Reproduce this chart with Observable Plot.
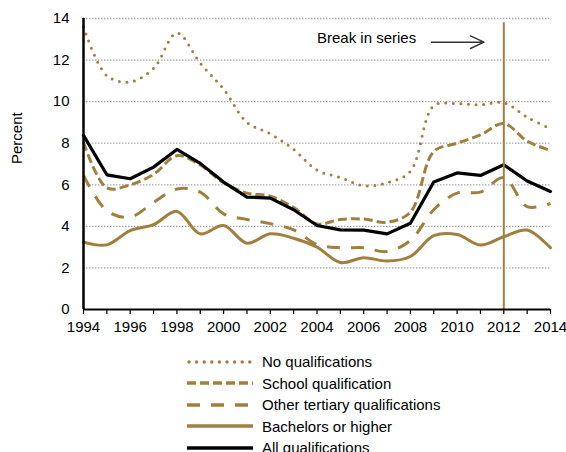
<!DOCTYPE html>
<html>
<head>
<meta charset="utf-8">
<script src="https://cdn.jsdelivr.net/npm/d3@7"></script>
<script src="https://cdn.jsdelivr.net/npm/@observablehq/plot@0.6"></script>
<style>
  body { margin: 0; background: #fff; font-family: "Liberation Sans", Arial, sans-serif; color: #000; }
  #legend { margin-top: 11px; padding-left: 187px; font-size: 15px; }
  .row { display: flex; align-items: center; height: 21.5px; }
  .row svg { margin-right: 9px; }
</style>
</head>
<body>
<div id="chart"></div>
<div id="legend"></div>
<script>
const years = [1994,1995,1996,1997,1998,1999,2000,2001,2002,2003,2004,2005,2006,2007,2008,2009,2010,2011,2012,2013,2014];
const noQualifications = [13.6,11.25,10.95,11.6,13.3,11.85,10.6,9.0,8.45,7.7,6.7,6.35,5.95,6.1,6.65,9.8,9.9,9.85,9.95,9.25,8.7];
const schoolQualification = [8.05,5.85,6.0,6.5,7.4,6.95,6.1,5.6,5.45,4.9,4.12,4.33,4.35,4.2,4.68,7.6,8.0,8.4,8.95,8.1,7.65];
const otherTertiary = [6.45,4.75,4.45,5.15,5.8,5.65,4.6,4.33,4.13,3.83,3.13,2.97,2.97,2.79,3.32,4.8,5.6,5.65,6.35,4.95,5.1];
const bachelors = [3.24,3.11,3.8,4.08,4.72,3.64,4.04,3.19,3.64,3.43,3.0,2.26,2.49,2.33,2.55,3.55,3.61,3.1,3.5,3.82,2.97];
const allQualifications = [8.38,6.48,6.29,6.85,7.7,7.03,6.13,5.41,5.36,4.8,4.04,3.83,3.82,3.64,4.15,6.13,6.57,6.45,6.96,6.18,5.68];
const yTicks = [0,2,4,6,8,10,12,14];
const xLabelYears = [1994,1996,1998,2000,2002,2004,2006,2008,2010,2012,2014];
const breakYear = 2012;
const breakLabel = "Break in series";

const gold = "#a17f3f";
const series = [
  {name: "No qualifications", values: noQualifications, color: gold, dash: "0 7.6", cap: "round", curve: "catmull-rom", width: 3},
  {name: "School qualification", values: schoolQualification, color: gold, dash: "9 4", cap: "butt", curve: "catmull-rom", width: 3},
  {name: "Other tertiary qualifications", values: otherTertiary, color: gold, dash: "13 11", cap: "butt", curve: "catmull-rom", width: 3},
  {name: "Bachelors or higher", values: bachelors, color: gold, dash: null, cap: "round", curve: "catmull-rom", width: 3},
  {name: "All qualifications", values: allQualifications, color: "#000", dash: null, cap: "round", curve: "linear", width: 3.2}
];

const lineMarks = series.map(s => Plot.line(years.map((y, i) => ({year: y, value: s.values[i]})), {
  x: "year", y: "value", stroke: s.color, strokeWidth: s.width,
  strokeDasharray: s.dash || undefined, strokeLinecap: s.cap, strokeLinejoin: "round", curve: s.curve
}));

const chart = Plot.plot({
  width: 566, height: 340,
  marginLeft: 83, marginRight: 16, marginTop: 18, marginBottom: 31,
  style: {fontFamily: "'Liberation Sans', Arial, sans-serif", fontSize: "15px", color: "#000", background: "#fff"},
  x: {domain: [years[0], years[years.length - 1]]},
  y: {domain: [0, 14]},
  marks: [
    Plot.ruleY(yTicks.filter(d => d > 0), {stroke: "#a6a6a6", strokeWidth: 1.3, strokeDasharray: "1.4 1.6"}),
    ...lineMarks,
    Plot.ruleX([breakYear], {y1: 0, y2: 13.8, stroke: gold, strokeWidth: 2}),
    Plot.ruleX([years[0]], {y1: 0, y2: 14, stroke: "#000", strokeWidth: 2.5}),
    Plot.ruleY([0], {stroke: "#000", strokeWidth: 2}),
    Plot.axisY({ticks: yTicks, tickSize: 0, tickPadding: 14, label: null, fontSize: 15}),
    Plot.axisX({ticks: years, tickSize: 5, tickPadding: 7, tickFormat: d => xLabelYears.includes(d) ? String(d) : "", label: null, fontSize: 15, stroke: "#000", strokeWidth: 1.2}),
    Plot.text([breakLabel], {x: 2004.0, y: 13.07, text: d => d, textAnchor: "start", fontSize: 15, fill: "#000"}),
    Plot.arrow([{x1: 2008.9, x2: 2011.15, y: 12.86}], {x1: "x1", x2: "x2", y1: "y", y2: "y", stroke: "#333", strokeWidth: 1.4, headLength: 16, headAngle: 50}),
    Plot.text(["Percent"], {frameAnchor: "left", dx: -66, rotate: -90, text: d => d, fontSize: 15, fill: "#000"})
  ]
});
document.getElementById("chart").appendChild(chart);

const legend = document.getElementById("legend");
series.forEach(s => {
  const row = document.createElement("div");
  row.className = "row";
  const ns = "http://www.w3.org/2000/svg";
  const svg = document.createElementNS(ns, "svg");
  svg.setAttribute("width", 66); svg.setAttribute("height", 10);
  const ln = document.createElementNS(ns, "line");
  ln.setAttribute("x1", s.cap === "round" && s.dash ? 2 : 0);
  ln.setAttribute("x2", 66); ln.setAttribute("y1", 5); ln.setAttribute("y2", 5);
  ln.setAttribute("stroke", s.color);
  ln.setAttribute("stroke-width", s.width + 0.5);
  ln.setAttribute("stroke-linecap", s.cap);
  if (s.dash) ln.setAttribute("stroke-dasharray", s.dash);
  svg.appendChild(ln);
  const label = document.createElement("span");
  label.textContent = s.name;
  row.appendChild(svg); row.appendChild(label);
  legend.appendChild(row);
});
</script>
</body>
</html>
